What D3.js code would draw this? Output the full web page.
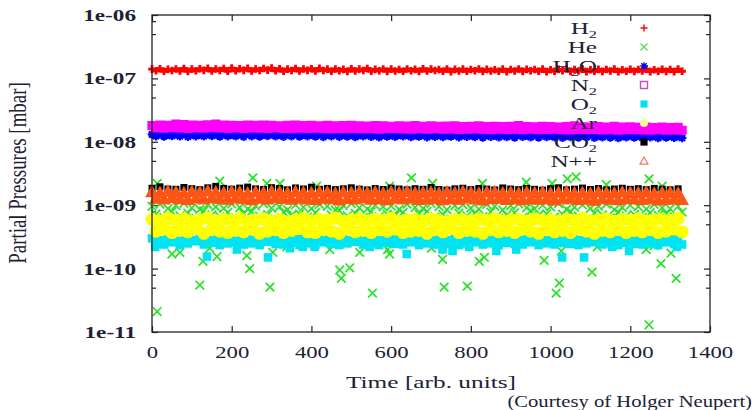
<!DOCTYPE html>
<html>
<head>
<meta charset="utf-8">
<script src="https://cdn.jsdelivr.net/npm/d3@7"></script>
<style>
  body { margin: 0; background: #fff; }
  svg { display: block; }
  text { font-family: "Liberation Serif", "Times New Roman", serif; fill: #1d2136; }
</style>
</head>
<body>
<svg id="chart" width="753" height="410"></svg>
<script>
"use strict";

// sample times (arb. units)
const timesA = [0,20,40,60,80,100,120,140,160,180,200,220,240,260,280,300,320,340,360,380,
  400,420,440,460,480,500,520,540,560,580,600,620,640,660,680,700,720,740,760,780,
  800,820,840,860,880,900,920,940,960,980,1000,1020,1040,1060,1080,1100,1120,1140,1160,1180,
  1200,1220,1240,1260,1280,1300,1320];
const timesB = [10,30,50,70,90,110,130,150,170,190,210,230,250,270,290,310,330,350,370,390,
  410,430,450,470,490,510,530,550,570,590,610,630,650,670,690,710,730,750,770,790,
  810,830,850,870,890,910,930,950,970,990,1010,1030,1050,1070,1090,1110,1130,1150,1170,1190,
  1210,1230,1250,1270,1290,1310,1330];

// partial pressures [mbar]
const h2A = [1.40e-7,1.42e-7,1.39e-7,1.41e-7,1.43e-7,1.40e-7,1.42e-7,1.44e-7,1.41e-7,1.43e-7,
  1.45e-7,1.42e-7,1.44e-7,1.41e-7,1.43e-7,1.45e-7,1.42e-7,1.40e-7,1.43e-7,1.41e-7,
  1.42e-7,1.44e-7,1.40e-7,1.41e-7,1.39e-7,1.42e-7,1.40e-7,1.43e-7,1.39e-7,1.41e-7,
  1.40e-7,1.38e-7,1.41e-7,1.39e-7,1.42e-7,1.40e-7,1.38e-7,1.41e-7,1.39e-7,1.40e-7,
  1.38e-7,1.41e-7,1.39e-7,1.37e-7,1.40e-7,1.38e-7,1.41e-7,1.39e-7,1.38e-7,1.40e-7,
  1.37e-7,1.39e-7,1.41e-7,1.38e-7,1.40e-7,1.37e-7,1.39e-7,1.38e-7,1.40e-7,1.37e-7,
  1.39e-7,1.38e-7,1.40e-7,1.37e-7,1.39e-7,1.38e-7,1.40e-7];
const h2B = [1.32e-7,1.30e-7,1.33e-7,1.31e-7,1.29e-7,1.32e-7,1.34e-7,1.31e-7,1.33e-7,1.30e-7,
  1.32e-7,1.34e-7,1.31e-7,1.33e-7,1.35e-7,1.32e-7,1.30e-7,1.33e-7,1.31e-7,1.34e-7,
  1.31e-7,1.33e-7,1.30e-7,1.32e-7,1.29e-7,1.31e-7,1.33e-7,1.30e-7,1.32e-7,1.29e-7,
  1.31e-7,1.30e-7,1.32e-7,1.29e-7,1.31e-7,1.33e-7,1.30e-7,1.28e-7,1.31e-7,1.30e-7,
  1.32e-7,1.29e-7,1.31e-7,1.30e-7,1.28e-7,1.31e-7,1.29e-7,1.32e-7,1.30e-7,1.28e-7,
  1.30e-7,1.32e-7,1.29e-7,1.31e-7,1.28e-7,1.30e-7,1.29e-7,1.31e-7,1.28e-7,1.30e-7,
  1.29e-7,1.31e-7,1.28e-7,1.30e-7,1.29e-7,1.28e-7,1.30e-7];

const heA = [9.6e-10,10.4e-10,8.8e-10,9.9e-10,10.7e-10,9.1e-10,8.6e-10,10.2e-10,9.4e-10,8.9e-10,
  10.5e-10,9.2e-10,8.7e-10,9.8e-10,10.6e-10,9.0e-10,9.5e-10,8.5e-10,10.1e-10,9.3e-10,
  8.8e-10,10.3e-10,9.6e-10,8.4e-10,9.9e-10,10.6e-10,9.1e-10,8.7e-10,10.0e-10,9.4e-10,
  9.7e-10,8.6e-10,10.4e-10,9.2e-10,8.9e-10,10.7e-10,9.5e-10,8.5e-10,9.8e-10,10.2e-10,
  9.0e-10,8.7e-10,10.3e-10,9.6e-10,8.4e-10,9.9e-10,10.5e-10,9.1e-10,8.8e-10,10.0e-10,
  9.4e-10,10.6e-10,8.6e-10,9.3e-10,10.1e-10,8.9e-10,9.7e-10,10.4e-10,8.5e-10,9.2e-10,
  10.0e-10,9.5e-10,8.7e-10,10.3e-10,9.1e-10,8.8e-10,9.6e-10];
const heB = [7.2e-10,6.4e-10,7.9e-10,6.8e-10,7.5e-10,6.2e-10,8.1e-10,7.0e-10,6.6e-10,7.7e-10,
  6.3e-10,7.4e-10,8.0e-10,6.7e-10,7.1e-10,6.1e-10,7.8e-10,6.9e-10,7.3e-10,6.5e-10,
  7.6e-10,6.2e-10,7.0e-10,8.2e-10,6.8e-10,7.4e-10,6.4e-10,7.9e-10,6.6e-10,7.2e-10,
  6.9e-10,7.7e-10,6.3e-10,7.3e-10,8.0e-10,6.5e-10,7.1e-10,6.0e-10,7.5e-10,6.8e-10,
  7.4e-10,6.6e-10,7.8e-10,6.2e-10,7.0e-10,7.6e-10,6.4e-10,8.1e-10,6.9e-10,7.3e-10,
  6.5e-10,7.2e-10,7.9e-10,6.7e-10,6.1e-10,7.5e-10,7.0e-10,6.3e-10,7.7e-10,6.8e-10,
  7.1e-10,6.4e-10,7.6e-10,6.9e-10,7.3e-10,6.6e-10,7.8e-10];
// isolated He readings [time, pressure]
const heOut = [[13,2.1e-11],[50,1.7e-10],[70,1.8e-10],[120,5.5e-11],[128,1.3e-10],[145,2.1e-10],
  [163,1.55e-10],[238,1.6e-10],[245,1.0e-10],[296,5.1e-11],[303,1.8e-10],[338,2.2e-10],
  [446,2.0e-10],[471,9.5e-11],[475,7.0e-11],[496,1.03e-10],[521,1.8e-10],[553,4.1e-11],
  [591,2.0e-10],[596,1.7e-10],[701,2.1e-10],[729,1.4e-10],[733,5.1e-11],[791,5.3e-11],
  [821,1.3e-10],[834,1.5e-10],[984,1.35e-10],[1022,5.9e-11],[1014,4.1e-11],[1027,1.9e-10],
  [1104,8.8e-11],[1117,2.2e-10],[1240,2.0e-10],[1260,2.3e-10],[1277,1.2e-10],[1302,1.75e-10],
  [1315,7.0e-11],[1247,1.3e-11],
  [13,2.2e-9],[170,2.4e-9],[253,2.7e-9],[288,2.2e-9],[321,2.2e-9],[413,2.0e-9],[596,2.0e-9],
  [651,2.7e-9],[704,2.2e-9],[829,2.2e-9],[939,2.3e-9],[1004,2.2e-9],[1042,2.6e-9],
  [1064,2.8e-9],[1140,2.1e-9],[1247,2.6e-9],[1280,2.0e-9]];

const h2oA = [1.31e-8,1.33e-8,1.30e-8,1.32e-8,1.34e-8,1.31e-8,1.30e-8,1.33e-8,1.31e-8,1.32e-8,
  1.30e-8,1.32e-8,1.34e-8,1.31e-8,1.29e-8,1.32e-8,1.30e-8,1.31e-8,1.33e-8,1.30e-8,
  1.29e-8,1.31e-8,1.30e-8,1.32e-8,1.29e-8,1.30e-8,1.28e-8,1.31e-8,1.29e-8,1.30e-8,
  1.28e-8,1.30e-8,1.29e-8,1.27e-8,1.30e-8,1.28e-8,1.29e-8,1.27e-8,1.29e-8,1.28e-8,
  1.27e-8,1.29e-8,1.28e-8,1.26e-8,1.28e-8,1.27e-8,1.29e-8,1.26e-8,1.28e-8,1.27e-8,
  1.26e-8,1.28e-8,1.25e-8,1.27e-8,1.26e-8,1.28e-8,1.25e-8,1.27e-8,1.26e-8,1.24e-8,
  1.26e-8,1.25e-8,1.27e-8,1.24e-8,1.26e-8,1.25e-8,1.24e-8];
const h2oB = [1.23e-8,1.21e-8,1.24e-8,1.22e-8,1.20e-8,1.23e-8,1.22e-8,1.24e-8,1.21e-8,1.23e-8,
  1.22e-8,1.20e-8,1.23e-8,1.21e-8,1.24e-8,1.22e-8,1.20e-8,1.22e-8,1.21e-8,1.23e-8,
  1.21e-8,1.19e-8,1.22e-8,1.20e-8,1.21e-8,1.19e-8,1.22e-8,1.20e-8,1.18e-8,1.21e-8,
  1.20e-8,1.22e-8,1.19e-8,1.21e-8,1.18e-8,1.20e-8,1.19e-8,1.21e-8,1.18e-8,1.20e-8,
  1.19e-8,1.17e-8,1.20e-8,1.18e-8,1.19e-8,1.17e-8,1.20e-8,1.18e-8,1.17e-8,1.19e-8,
  1.18e-8,1.16e-8,1.19e-8,1.17e-8,1.18e-8,1.16e-8,1.18e-8,1.17e-8,1.15e-8,1.18e-8,
  1.17e-8,1.16e-8,1.18e-8,1.15e-8,1.17e-8,1.16e-8,1.15e-8];

const n2A = [1.80e-8,1.84e-8,1.82e-8,1.90e-8,1.86e-8,1.83e-8,1.81e-8,1.85e-8,1.91e-8,1.84e-8,
  1.82e-8,1.80e-8,1.83e-8,1.81e-8,1.84e-8,1.82e-8,1.79e-8,1.81e-8,1.83e-8,1.80e-8,
  1.82e-8,1.79e-8,1.81e-8,1.78e-8,1.80e-8,1.82e-8,1.79e-8,1.77e-8,1.80e-8,1.78e-8,
  1.76e-8,1.79e-8,1.77e-8,1.80e-8,1.76e-8,1.78e-8,1.75e-8,1.77e-8,1.79e-8,1.74e-8,
  1.76e-8,1.78e-8,1.74e-8,1.76e-8,1.73e-8,1.75e-8,1.80e-8,1.74e-8,1.72e-8,1.75e-8,
  1.73e-8,1.71e-8,1.74e-8,1.78e-8,1.72e-8,1.70e-8,1.73e-8,1.71e-8,1.76e-8,1.70e-8,
  1.72e-8,1.69e-8,1.71e-8,1.68e-8,1.70e-8,1.67e-8,1.69e-8];
const n2B = [1.66e-8,1.64e-8,1.67e-8,1.65e-8,1.63e-8,1.66e-8,1.64e-8,1.67e-8,1.65e-8,1.63e-8,
  1.65e-8,1.63e-8,1.66e-8,1.64e-8,1.62e-8,1.65e-8,1.63e-8,1.61e-8,1.64e-8,1.62e-8,
  1.64e-8,1.62e-8,1.60e-8,1.63e-8,1.61e-8,1.63e-8,1.60e-8,1.62e-8,1.59e-8,1.61e-8,
  1.62e-8,1.60e-8,1.58e-8,1.61e-8,1.59e-8,1.61e-8,1.58e-8,1.60e-8,1.57e-8,1.59e-8,
  1.60e-8,1.58e-8,1.56e-8,1.59e-8,1.57e-8,1.59e-8,1.56e-8,1.58e-8,1.55e-8,1.57e-8,
  1.58e-8,1.56e-8,1.54e-8,1.57e-8,1.55e-8,1.57e-8,1.54e-8,1.56e-8,1.53e-8,1.55e-8,
  1.56e-8,1.54e-8,1.52e-8,1.55e-8,1.53e-8,1.54e-8,1.52e-8];

const o2A = [3.0e-10,2.8e-10,3.1e-10,2.9e-10,3.2e-10,2.8e-10,3.0e-10,2.9e-10,3.1e-10,2.8e-10,
  3.0e-10,3.2e-10,2.9e-10,2.8e-10,3.1e-10,3.0e-10,2.8e-10,3.2e-10,2.9e-10,3.0e-10,
  2.8e-10,3.1e-10,2.9e-10,3.0e-10,3.2e-10,2.8e-10,3.0e-10,2.9e-10,3.1e-10,2.8e-10,
  3.0e-10,2.9e-10,3.1e-10,2.8e-10,3.2e-10,3.0e-10,2.9e-10,2.8e-10,3.1e-10,3.0e-10,
  2.9e-10,3.2e-10,2.8e-10,3.0e-10,2.9e-10,3.1e-10,2.8e-10,3.0e-10,3.2e-10,2.9e-10,
  2.8e-10,3.1e-10,3.0e-10,2.9e-10,2.8e-10,3.1e-10,3.0e-10,2.9e-10,3.2e-10,2.8e-10,
  3.0e-10,2.9e-10,3.1e-10,2.8e-10,3.0e-10,3.1e-10,2.9e-10];
const o2B = [2.5e-10,2.4e-10,2.6e-10,2.35e-10,2.5e-10,2.7e-10,2.4e-10,2.55e-10,2.35e-10,2.5e-10,
  2.6e-10,2.4e-10,2.5e-10,2.35e-10,2.65e-10,2.45e-10,2.4e-10,2.55e-10,2.35e-10,2.5e-10,
  2.4e-10,2.6e-10,2.45e-10,2.35e-10,2.5e-10,2.65e-10,2.4e-10,2.5e-10,2.35e-10,2.55e-10,
  2.45e-10,2.4e-10,2.6e-10,2.35e-10,2.5e-10,2.4e-10,2.55e-10,2.45e-10,2.35e-10,2.5e-10,
  2.6e-10,2.4e-10,2.5e-10,2.35e-10,2.55e-10,2.45e-10,2.4e-10,2.6e-10,2.35e-10,2.5e-10,
  2.4e-10,2.55e-10,2.45e-10,2.35e-10,2.5e-10,2.6e-10,2.4e-10,2.5e-10,2.35e-10,2.55e-10,
  2.45e-10,2.4e-10,2.5e-10,2.35e-10,2.6e-10,2.45e-10,2.4e-10];
const o2Out = [[8,2.2e-10],[138,1.55e-10],[213,2.0e-10],[291,1.5e-10],[346,2.1e-10],[378,2.2e-10],
  [408,2.2e-10],[546,2.2e-10],[639,1.7e-10],[729,2.0e-10],[754,1.9e-10],[796,2.2e-10],
  [864,1.9e-10],[914,2.0e-10],[1029,1.5e-10],[1084,1.5e-10],[1155,2.2e-10],[1197,1.9e-10],
  [1317,2.2e-10]];

const arA = [6.0e-10,5.7e-10,6.2e-10,5.8e-10,6.1e-10,5.6e-10,5.9e-10,6.3e-10,5.7e-10,6.0e-10,
  5.8e-10,6.2e-10,5.6e-10,5.9e-10,6.1e-10,5.7e-10,6.0e-10,5.5e-10,5.9e-10,6.2e-10,
  5.7e-10,6.0e-10,5.8e-10,6.3e-10,5.6e-10,5.9e-10,6.1e-10,5.7e-10,6.0e-10,5.8e-10,
  6.2e-10,5.6e-10,5.9e-10,6.0e-10,5.7e-10,6.1e-10,5.8e-10,5.5e-10,6.0e-10,5.9e-10,
  5.7e-10,6.1e-10,5.8e-10,6.2e-10,5.6e-10,5.9e-10,6.0e-10,5.7e-10,6.1e-10,5.8e-10,
  5.9e-10,5.6e-10,6.0e-10,5.8e-10,6.2e-10,5.7e-10,5.9e-10,6.1e-10,5.6e-10,6.0e-10,
  5.8e-10,6.1e-10,5.7e-10,5.9e-10,6.0e-10,5.8e-10,6.2e-10];
const arB = [3.9e-10,4.2e-10,3.7e-10,4.0e-10,3.8e-10,4.3e-10,3.6e-10,4.1e-10,3.9e-10,3.7e-10,
  4.0e-10,3.8e-10,4.2e-10,3.6e-10,3.9e-10,4.1e-10,3.7e-10,4.0e-10,4.3e-10,3.8e-10,
  3.7e-10,4.1e-10,3.9e-10,3.6e-10,4.2e-10,3.8e-10,4.0e-10,3.7e-10,4.1e-10,3.9e-10,
  4.2e-10,3.7e-10,3.9e-10,4.0e-10,3.6e-10,4.1e-10,3.8e-10,4.3e-10,3.7e-10,4.0e-10,
  3.9e-10,3.6e-10,4.1e-10,3.8e-10,4.0e-10,3.7e-10,4.2e-10,3.9e-10,3.6e-10,4.1e-10,
  3.8e-10,4.0e-10,3.7e-10,4.2e-10,3.9e-10,3.6e-10,4.0e-10,3.8e-10,4.1e-10,3.7e-10,
  4.0e-10,3.8e-10,4.1e-10,3.7e-10,3.9e-10,4.2e-10,3.8e-10];

const co2A = [1.85e-9,1.95e-9,1.80e-9,1.78e-9,1.90e-9,1.82e-9,1.76e-9,1.88e-9,1.98e-9,1.84e-9,
  1.79e-9,1.86e-9,1.93e-9,1.81e-9,1.77e-9,1.89e-9,1.83e-9,1.75e-9,1.87e-9,1.80e-9,
  1.92e-9,1.78e-9,1.84e-9,1.76e-9,1.81e-9,1.88e-9,1.79e-9,1.74e-9,1.83e-9,1.77e-9,
  1.86e-9,1.80e-9,1.75e-9,1.82e-9,1.78e-9,1.90e-9,1.77e-9,1.73e-9,1.81e-9,1.85e-9,
  1.76e-9,1.83e-9,1.79e-9,1.74e-9,1.87e-9,1.80e-9,1.76e-9,1.84e-9,1.78e-9,1.73e-9,
  1.82e-9,1.88e-9,1.75e-9,1.79e-9,1.86e-9,1.77e-9,1.83e-9,1.74e-9,1.80e-9,1.85e-9,
  1.78e-9,1.82e-9,1.76e-9,1.84e-9,1.79e-9,1.75e-9,1.81e-9];

const nppA = [1.62e-9,1.58e-9,1.65e-9,1.60e-9,1.56e-9,1.63e-9,1.59e-9,1.66e-9,1.61e-9,1.57e-9,
  1.64e-9,1.60e-9,1.55e-9,1.62e-9,1.58e-9,1.65e-9,1.61e-9,1.57e-9,1.63e-9,1.59e-9,
  1.56e-9,1.62e-9,1.60e-9,1.54e-9,1.61e-9,1.58e-9,1.64e-9,1.57e-9,1.60e-9,1.55e-9,
  1.62e-9,1.58e-9,1.63e-9,1.56e-9,1.59e-9,1.61e-9,1.55e-9,1.60e-9,1.57e-9,1.63e-9,
  1.58e-9,1.54e-9,1.60e-9,1.62e-9,1.56e-9,1.59e-9,1.55e-9,1.61e-9,1.57e-9,1.60e-9,
  1.54e-9,1.59e-9,1.62e-9,1.56e-9,1.58e-9,1.53e-9,1.60e-9,1.57e-9,1.55e-9,1.61e-9,
  1.58e-9,1.56e-9,1.60e-9,1.54e-9,1.57e-9,1.59e-9,1.55e-9];
const nppB = [1.28e-9,1.24e-9,1.31e-9,1.26e-9,1.22e-9,1.29e-9,1.25e-9,1.32e-9,1.27e-9,1.23e-9,
  1.30e-9,1.26e-9,1.21e-9,1.28e-9,1.24e-9,1.31e-9,1.27e-9,1.23e-9,1.29e-9,1.25e-9,
  1.22e-9,1.28e-9,1.26e-9,1.20e-9,1.27e-9,1.24e-9,1.30e-9,1.23e-9,1.26e-9,1.21e-9,
  1.28e-9,1.24e-9,1.29e-9,1.22e-9,1.25e-9,1.27e-9,1.21e-9,1.26e-9,1.23e-9,1.29e-9,
  1.24e-9,1.20e-9,1.26e-9,1.28e-9,1.22e-9,1.25e-9,1.21e-9,1.27e-9,1.23e-9,1.26e-9,
  1.20e-9,1.25e-9,1.28e-9,1.22e-9,1.24e-9,1.19e-9,1.26e-9,1.23e-9,1.21e-9,1.27e-9,
  1.24e-9,1.22e-9,1.26e-9,1.20e-9,1.23e-9,1.25e-9,1.22e-9];

// axis ticks
const xTicks = [0,200,400,600,800,1000,1200,1400];
const yTicks = [1e-11,1e-10,1e-9,1e-8,1e-7,1e-6];
const yTickLabels = ["1e-11","1e-10","1e-09","1e-08","1e-07","1e-06"];
const yMinor = [5e-11,8e-11,5e-10,8e-10,5e-9,8e-9,5e-8,8e-8,5e-7,8e-7];

// legend entries: [main, subscript, tail]
const legendLabels = [["H","2",""],["He","",""],["H","2","O"],["N","2",""],
  ["O","2",""],["Ar","",""],["CO","2",""],["N++","",""]];

const M = {left: 152, right: 710, top: 15, bottom: 332};
const SX = 1.42; // the original figure is stretched horizontally

const svg = d3.select("#chart");

const x = d3.scaleLinear().domain([0, 1400]).range([M.left, M.right]);
const y = d3.scaleLog().domain([1e-11, 1e-6]).range([M.bottom, M.top]);

// marker shapes
function markPath(kind, s) {
  if (kind === "plus") return `M${-s},0H${s}M0,${-s}V${s}`;
  if (kind === "cross") return `M${-s},${-s}L${s},${s}M${-s},${s}L${s},${-s}`;
  if (kind === "star") {
    const d = s * 0.7;
    return `M${-s},0H${s}M0,${-s}V${s}M${-d},${-d}L${d},${d}M${-d},${d}L${d},${-d}`;
  }
  if (kind === "square") return `M${-s},${-s}H${s}V${s}H${-s}Z`;
  if (kind === "triangle") return `M0,${-s}L${s},${s*0.8}L${-s},${s*0.8}Z`;
  if (kind === "circle") return `M${s},0A${s},${s} 0 1,1 ${-s},0A${s},${s} 0 1,1 ${s},0Z`;
}

// styles of the dense bands
const styles = {
  H2:  {kind: "plus", s: 3.8, stroke: "#ff0000", fill: "none", sw: 2.9},
  He:  {kind: "cross", s: 4.3, stroke: "#27e327", fill: "none", sw: 1.7},
  H2O: {kind: "star", s: 4.3, stroke: "#0000ff", fill: "none", sw: 2.2},
  N2:  {kind: "square", s: 3.8, stroke: "#ff00ff", fill: "#ff00ff", sw: 1.6},
  O2:  {kind: "square", s: 4.3, stroke: "none", fill: "#00e4f2", sw: 0},
  Ar:  {kind: "circle", s: 6.5, stroke: "none", fill: "#ffff00", sw: 0},
  CO2: {kind: "square", s: 3.5, stroke: "none", fill: "#000000", sw: 0},
  Npp: {kind: "triangle", s: 5.9, stroke: "#ff5514", fill: "#ff5514", sw: 1.2}
};

function drawMarks(g, pts, st) {
  g.selectAll(null)
    .data(pts)
    .enter()
    .append("path")
    .attr("transform", d => `translate(${x(d[0]).toFixed(2)},${y(d[1]).toFixed(2)})`)
    .attr("d", markPath(st.kind, st.s))
    .attr("fill", st.fill)
    .attr("stroke", st.stroke)
    .attr("stroke-width", st.sw);
}

// axes: ticks pointing inwards on all four sides
const axisG = svg.append("g").attr("class", "axes");

const bottom = axisG.append("g")
  .attr("transform", `translate(0,${M.bottom})`)
  .call(d3.axisBottom(x).tickValues(xTicks).tickSizeInner(-6).tickSizeOuter(0)
    .tickPadding(15).tickFormat(d3.format("d")));
bottom.selectAll("text")
  .attr("transform", `scale(${SX},1)`)
  .style("font-size", "16px")
  .attr("fill", "#1d2136");

axisG.append("g")
  .attr("transform", `translate(0,${M.top})`)
  .call(d3.axisTop(x).tickValues(xTicks).tickSizeInner(-6).tickSizeOuter(0).tickFormat(""));

const left = axisG.append("g")
  .attr("transform", `translate(${M.left},0)`)
  .call(d3.axisLeft(y).tickValues(yTicks).tickSizeInner(-6).tickSizeOuter(0)
    .tickFormat((d, i) => yTickLabels[i]));
left.selectAll("text")
  .attr("x", -16 / 1.45)
  .attr("dy", "0.34em")
  .attr("transform", "scale(1.45,1)")
  .style("font-size", "16px")
  .style("font-weight", "bold")
  .attr("fill", "#1d2136");

axisG.append("g")
  .attr("transform", `translate(${M.left},0)`)
  .call(d3.axisLeft(y).tickValues(yMinor).tickSizeInner(-4).tickSizeOuter(0).tickFormat(""));

axisG.append("g")
  .attr("transform", `translate(${M.right},0)`)
  .call(d3.axisRight(y).tickValues(yTicks).tickSizeInner(-6).tickSizeOuter(0).tickFormat(""));
axisG.append("g")
  .attr("transform", `translate(${M.right},0)`)
  .call(d3.axisRight(y).tickValues(yMinor).tickSizeInner(-4).tickSizeOuter(0).tickFormat(""));

axisG.selectAll(".domain").remove();
axisG.selectAll(".tick line").attr("stroke", "#222").attr("stroke-width", 1.2);

// data, in the order gnuplot drew it
const dataG = svg.append("g").attr("class", "data");
drawMarks(dataG, d3.zip(timesA, h2A).concat(d3.zip(timesB, h2B)), styles.H2);
drawMarks(dataG, d3.zip(timesA, heA).concat(d3.zip(timesB, heB), heOut), styles.He);
drawMarks(dataG, d3.zip(timesA, h2oA).concat(d3.zip(timesB, h2oB)), styles.H2O);
drawMarks(dataG, d3.zip(timesA, n2A).concat(d3.zip(timesB, n2B)), styles.N2);
drawMarks(dataG, d3.zip(timesA, o2A).concat(d3.zip(timesB, o2B), o2Out), styles.O2);
drawMarks(dataG, d3.zip(timesA, arA).concat(d3.zip(timesB, arB)), styles.Ar);
drawMarks(dataG, d3.zip(timesA, co2A), styles.CO2);
drawMarks(dataG, d3.zip(timesA, nppA).concat(d3.zip(timesB, nppB)), styles.Npp);

// frame
svg.append("rect")
  .attr("x", M.left).attr("y", M.top)
  .attr("width", M.right - M.left).attr("height", M.bottom - M.top)
  .attr("fill", "none").attr("stroke", "#222").attr("stroke-width", 1.3);

// legend
const legendStyles = [
  {kind: "plus", s: 3.5, stroke: "#ff0000", fill: "none", sw: 1.4},
  {kind: "cross", s: 3.5, stroke: "#55dd55", fill: "none", sw: 1.3},
  {kind: "star", s: 3.8, stroke: "#0000ff", fill: "none", sw: 1.4},
  {kind: "square", s: 3.5, stroke: "#c552c5", fill: "none", sw: 1.4},
  {kind: "square", s: 3.6, stroke: "none", fill: "#00e4f2", sw: 0},
  {kind: "circle", s: 4, stroke: "none", fill: "#f6f98a", sw: 0},
  {kind: "square", s: 3.6, stroke: "none", fill: "#000000", sw: 0},
  {kind: "triangle", s: 4, stroke: "#f07a6a", fill: "none", sw: 1.2}];
const legendG = svg.append("g").attr("class", "legend");
legendLabels.forEach((lab, i) => {
  const ly = 28 + i * 19;
  const t = legendG.append("text")
    .attr("transform", `translate(597,${ly + 6}) scale(1.48,1)`)
    .attr("text-anchor", "end")
    .style("font-size", "17px")
    .attr("fill", "#1b1b1b");
  t.append("tspan").text(lab[0]);
  if (lab[1]) t.append("tspan").attr("dy", 4).style("font-size", "11px").text(lab[1]);
  if (lab[2]) t.append("tspan").attr("dy", -4).text(lab[2]);
  const st = legendStyles[i];
  legendG.append("path")
    .attr("transform", `translate(644,${ly})`)
    .attr("d", markPath(st.kind, st.s))
    .attr("fill", st.fill)
    .attr("stroke", st.stroke)
    .attr("stroke-width", st.sw);
});

// titles
svg.append("text")
  .attr("transform", "translate(431,388) scale(1.49,1)")
  .attr("text-anchor", "middle")
  .style("font-size", "17px")
  .text("Time [arb. units]");

svg.append("text")
  .attr("transform", "translate(26,173) rotate(-90) scale(1.05,1.45)")
  .attr("text-anchor", "middle")
  .style("font-size", "18px")
  .text("Partial Pressures [mbar]");

svg.append("text")
  .attr("transform", "translate(752,407) scale(1.29,1)")
  .attr("text-anchor", "end")
  .style("font-size", "16px")
  .attr("fill", "#111")
  .text("(Courtesy of Holger Neupert)");
</script>
</body>
</html>
